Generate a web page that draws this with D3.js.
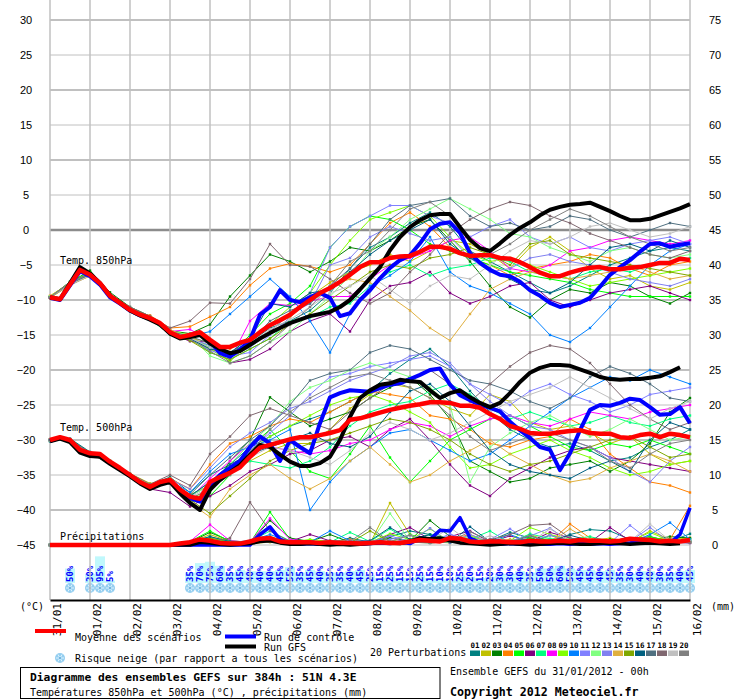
<!DOCTYPE html>
<html><head><meta charset="utf-8">
<script src="https://cdn.jsdelivr.net/npm/d3@7"></script>
<style>body{margin:0;background:#fff}svg{display:block}</style>
</head><body>
<svg id="c" width="740" height="700"></svg>
<script>
// ---------- DATA ----------
const dates = ["31/01","01/02","02/02","03/02","04/02","05/02","06/02","07/02","08/02","09/02","10/02","11/02","12/02","13/02","14/02","15/02","16/02"];
const hours6 = d3.range(0, 385, 6);   // 65 steps
const hours12 = d3.range(0, 385, 12); // 33 steps
const leftTicks = [-45,-40,-35,-30,-25,-20,-15,-10,-5,0,5,10,15,20,25,30];
const rightTicks = [0,5,10,15,20,25,30,35,40,45,50,55,60,65,70,75];

const t850Mean = [-9.6,-9.9,-7.8,-5.7,-6.4,-7.6,-9.4,-10.4,-11.4,-12.1,
 -12.6,-13.3,-14.6,-15.3,-15.0,-14.6,-15.7,-16.7,-16.7,-16.1,
 -15.7,-14.6,-13.6,-12.9,-12.1,-11.0,-10.0,-9.0,-8.3,-7.4,
 -6.4,-5.3,-4.6,-4.6,-4.0,-3.8,-3.7,-3.1,-2.4,-2.4,
 -2.7,-3.3,-3.7,-3.6,-3.6,-4.0,-4.1,-4.6,-5.3,-6.1,
 -6.6,-6.6,-6.1,-5.7,-5.4,-5.3,-5.6,-5.6,-5.4,-5.3,
 -5.0,-4.7,-4.7,-4.1,-4.3];
const t850Ctrl = [-9.7,-10.0,-7.9,-5.9,-6.6,-7.8,-9.6,-10.5,-11.5,-12.2,
 -12.7,-13.4,-14.7,-15.4,-15.2,-14.8,-15.9,-17.6,-18.1,-17.1,
 -15.7,-12.1,-11.0,-8.6,-10.0,-10.3,-9.6,-9.0,-9.7,-12.3,
 -11.9,-10.0,-8.6,-6.9,-5.4,-4.3,-3.6,-1.9,0.1,0.9,
 1.1,-0.4,-3.3,-4.7,-5.7,-6.4,-6.6,-7.4,-8.6,-9.4,
 -10.4,-11.0,-10.7,-10.4,-9.7,-8.1,-6.4,-5.3,-4.3,-3.1,
 -2.0,-1.9,-2.4,-2.1,-1.9];
const t850Gfs = [-9.6,-9.9,-7.6,-5.3,-6.2,-7.6,-9.4,-10.4,-11.5,-12.2,
 -12.8,-13.5,-14.8,-15.5,-15.3,-15.0,-16.2,-17.0,-17.6,-17.3,
 -16.4,-15.5,-14.7,-14.0,-13.3,-12.8,-12.3,-12.0,-11.7,-11.0,
 -10.0,-8.5,-6.9,-5.3,-2.9,-1.0,0.4,1.4,2.1,2.3,
 2.3,0.4,-1.4,-2.6,-3.0,-1.9,-0.7,0.3,1.1,2.1,
 2.9,3.3,3.6,3.7,3.9,3.3,2.7,2.0,1.4,1.4,
 1.6,2.1,2.6,3.1,3.7];

const t500Mean = [-30.0,-29.6,-30.0,-31.4,-31.9,-32.0,-33.1,-34.0,-35.0,-36.0,
 -36.7,-36.0,-35.7,-37.1,-38.1,-38.4,-36.0,-35.3,-34.7,-33.9,
 -32.4,-31.1,-30.7,-30.3,-29.9,-29.6,-29.6,-29.3,-29.0,-28.6,
 -27.1,-26.9,-26.5,-26.1,-25.7,-25.4,-25.1,-24.9,-24.6,-24.6,
 -24.7,-25.1,-25.1,-25.4,-26.3,-27.0,-28.0,-28.4,-29.0,-29.1,
 -29.1,-28.9,-28.7,-28.6,-29.0,-29.1,-29.1,-29.6,-29.7,-29.3,
 -29.1,-29.6,-29.1,-29.3,-29.6];
const t500Ctrl = [-30.1,-29.7,-30.1,-31.5,-32.0,-32.2,-33.2,-34.1,-35.1,-36.1,
 -36.8,-36.2,-35.9,-37.3,-38.3,-38.8,-36.5,-35.0,-34.0,-33.0,
 -31.0,-29.5,-30.5,-33.0,-30.0,-31.0,-31.9,-27.6,-23.9,-23.3,
 -22.9,-23.0,-23.1,-22.6,-22.1,-21.9,-21.3,-20.7,-20.0,-19.8,
 -22.1,-23.6,-24.3,-25.0,-25.4,-25.9,-27.4,-28.6,-29.7,-31.0,
 -31.4,-34.3,-31.9,-28.6,-25.7,-25.0,-25.1,-24.7,-24.1,-24.3,
 -25.3,-26.4,-26.3,-25.3,-27.6];
const t500Gfs = [-30.2,-29.8,-30.3,-31.8,-32.3,-32.4,-33.4,-34.3,-35.2,-36.2,
 -37.0,-36.4,-36.0,-37.6,-39.0,-40.0,-37.1,-35.7,-34.6,-33.6,
 -32.1,-30.7,-31.0,-32.1,-33.1,-33.7,-33.7,-33.3,-32.4,-30.0,
 -26.7,-24.0,-22.9,-22.1,-21.9,-21.4,-21.6,-21.7,-22.9,-24.0,
 -23.3,-22.9,-23.9,-24.7,-25.3,-24.7,-23.3,-21.7,-20.4,-19.7,
 -19.3,-19.3,-19.4,-19.9,-20.4,-21.0,-21.3,-21.4,-21.3,-21.3,
 -21.1,-20.9,-20.3,-19.6,null];

const precipMean = [0,0,0,0,0,0,0,0,0,0,
 0,0,0,0.2,0.4,0.8,0.6,0.3,0.2,0.2,
 0.5,0.9,1.0,0.5,0.4,0.4,0.4,0.3,0.4,0.3,
 0.3,0.2,0.3,0.4,0.3,0.3,0.5,0.7,0.6,0.5,
 1.0,0.9,0.5,0.4,0.5,0.5,0.4,0.4,0.6,0.5,
 0.5,0.6,0.5,0.7,0.6,0.6,0.5,0.6,0.9,0.8,
 0.7,0.5,0.6,0.5,0.7];
const precipCtrl = [0,0,0,0,0,0,0,0,0,0,
 0,0,0,0,0,0,0,0,0,0,
 0,1.5,2.6,0.8,0.2,0.1,0.2,0.1,0.1,0.2,
 0.1,0.1,0.2,0.3,0.2,0.4,0.2,1.0,0.8,2.1,
 2.0,3.9,1.0,0.3,0.2,0.1,0.2,0.1,0.2,0.1,
 0.1,0.2,0.1,0.2,0.1,0.2,0.1,0.2,0.3,0.5,
 0.8,0.4,0.3,1.5,5.3];
const precipGfs = [0,0,0,0,0,0,0,0,0,0,
 0,0,0,0,0,0.4,0.3,0.1,0,0.1,
 0.2,0.5,0.6,0.3,0.1,0.1,0.2,0.1,0,0.1,
 0,0.1,0.2,0.4,0.3,0.2,0.5,1.0,0.9,1.0,
 0.6,0.3,0.2,0.1,0,0.1,0.2,0.1,0,0.1,
 0.2,0.3,0.2,0.1,0.1,0.2,0.3,0.2,0.1,0.2,
 0.3,0.2,0.1,0.2,null];

const pertColors = ["#008080","#c0c000","#008000","#ff8000","#00ff00","#800080","#00ff80","#ff00ff","#80ff00","#0080ff",
 "#8080ff","#80ff80","#8080f0","#e0b040","#80a800","#006080","#507080","#806870","#c0c0c0","#808080"];

const t850Pert = [
 [-9.5,-7.7,-6.3,-9.2,-11.2,-12.4,-14.8, -15.5,-16.8,-17.5,-16.0,-14.0,-13.0,-11.5,-9.0,-5.5,-2.5, -1.0,1.0,2.5,0.5,-3.0,-4.5,-6.0,-7.5,-9.0,-8.0, -6.5,-5.0,-4.0,-3.0,-2.5,-3.0],
 [-9.7,-7.9,-6.5,-9.5,-11.5,-12.7,-14.3, -15.8,-17.0,-18.0,-16.5,-14.5,-12.0,-9.5,-7.5,-6.0,-5.0, -3.5,-4.5,-3.0,-1.5,-2.0,-3.5,-5.5,-2.5,-1.0,-3.0, -5.5,-7.0,-6.5,-8.0,-8.5,-7.5],
 [-9.6,-7.5,-5.8,-8.9,-11.0,-12.3,-14.4, -14.8,-13.5,-9.5,-6.5,-3.5,-4.5,-6.0,-4.5,-2.5,-3.0, -1.5,0.5,1.5,-1.5,-4.5,-8.0,-11.0,-12.5,-10.0,-8.5, -9.0,-7.5,-8.0,-9.5,-10.5,-9.0],
 [-9.4,-7.6,-6.4,-9.5,-11.6,-12.2,-14.0, -13.8,-12.4,-11.0,-7.9,-5.5,-4.8,-5.2,-6.0,-5.0,-2.0, 1.0,2.5,0.5,-2.5,-4.0,-5.0,-6.5,-5.5,-5.0,-4.5, -3.5,-4.0,-5.5,-6.5,-5.0,-4.5],
 [-9.6,-7.4,-6.0,-9.4,-11.4,-12.8,-14.9, -15.6,-16.5,-17.8,-15.0,-12.0,-10.5,-8.0,-2.5,0.5,2.0, 1.5,0.0,-2.0,-3.0,-4.0,-5.0,-6.0,-6.5,-7.0,-7.5, -8.5,-9.0,-9.5,-9.5,-9.5,-9.5],
 [-9.6,-7.8,-6.4,-9.3,-11.4,-12.6,-14.7, -15.9,-16.0,-19.0,-18.5,-17.0,-14.5,-13.0,-12.0,-14.5,-10.0, -8.0,-7.5,-6.0,-9.0,-10.5,-9.5,-8.0,-7.5,-10.0,-11.0, -10.0,-9.0,-8.5,-8.0,-9.0,-10.0],
 [-9.6,-7.7,-6.4,-9.4,-11.4,-12.6,-14.6, -15.4,-17.5,-18.5,-17.0,-15.5,-13.0,-12.5,-11.0,-10.5,-8.0, -6.0,-5.0,-6.5,-5.5,-5.0,-4.0,-4.5,-6.0,-6.5,-7.0, -6.0,-5.5,-6.0,-5.0,-4.5,-4.0],
 [-9.6,-7.8,-6.3,-9.5,-11.5,-12.6,-14.5, -14.2,-15.8,-18.5,-13.0,-10.5,-10.8,-10.2,-9.5,-9.5,-7.0, -5.0,-4.0,-3.0,-1.5,-1.0,-3.0,-5.5,-6.0,-5.0,-3.0, -2.5,-1.5,-1.0,-1.5,-2.0,-1.5],
 [-9.5,-7.5,-6.1,-9.2,-11.2,-12.5,-14.4, -15.0,-17.0,-18.8,-16.0,-13.5,-11.0,-9.0,-5.0,-1.5,1.5, 2.5,3.5,2.0,-1.0,-3.5,-4.5,-4.0,-5.0,-6.0,-7.0, -8.0,-7.5,-7.0,-6.5,-6.0,-5.5],
 [-9.6,-7.7,-6.3,-9.4,-11.4,-12.7,-14.7, -15.2,-14.5,-12.0,-9.5,-7.0,-9.5,-13.0,-17.5,-12.0,-8.0, -6.5,-4.5,-1.0,-6.0,-8.0,-9.0,-10.5,-12.0,-15.0,-16.0, -14.0,-11.0,-8.0,-5.0,-3.0,-2.0],
 [-9.6,-7.9,-6.5,-9.6,-11.6,-12.8,-14.8, -15.5,-16.5,-18.0,-17.5,-15.0,-12.5,-9.0,-2.5,0.5,2.0, 3.5,3.5,2.0,1.0,-1.0,0.5,1.5,-1.0,-2.0,-1.0, -2.5,-3.0,-2.0,-1.5,-1.0,-2.0],
 [-9.5,-7.6,-6.2,-9.3,-11.3,-12.5,-14.5, -15.0,-18.0,-19.0,-18.0,-16.0,-14.5,-12.0,-9.5,-6.5,-3.0, -1.0,1.5,3.0,4.5,3.0,1.5,-0.5,-1.0,-2.5,-3.5, -4.5,-3.0,-2.5,-3.5,-4.0,-3.5],
 [-9.6,-7.7,-6.4,-9.5,-11.5,-12.7,-14.6, -15.3,-17.2,-18.0,-16.8,-14.5,-12.0,-10.5,-5.0,-4.0,-1.0, 0.5,-0.5,-1.5,-1.0,-4.0,-6.0,-5.5,-4.0,-3.5,-4.5, -5.0,-6.0,-7.0,-7.5,-8.0,-7.0],
 [-9.7,-7.8,-6.6,-9.6,-11.3,-12.4,-14.2, -15.5,-16.0,-17.0,-15.5,-13.5,-12.5,-10.0,-8.0,-7.0,-7.5, -9.5,-11.5,-14.0,-15.8,-12.0,-8.5,-7.0,-6.0,-6.5,-7.0, -6.5,-6.0,-5.0,-6.0,-7.0,-6.5],
 [-9.6,-7.8,-6.3,-9.4,-11.4,-12.6,-14.6, -15.8,-17.5,-18.5,-17.0,-15.5,-13.5,-12.0,-10.0,-8.0,-6.0, -5.0,-5.5,-4.0,-3.5,-2.5,-3.5,-5.0,-2.0,-1.5,-3.5, -4.0,-4.5,-5.0,-5.5,-6.0,-6.5],
 [-9.6,-7.7,-6.4,-9.4,-11.4,-12.6,-14.7, -15.5,-17.0,-17.5,-15.5,-10.5,-11.0,-9.0,-8.5,-6.0,-3.5, -1.5,0.0,1.5,-2.0,-4.0,-5.5,-7.0,-8.5,-9.0,-7.5, -5.0,-2.5,-2.0,-3.0,-1.5,-2.5],
 [-9.6,-7.7,-6.2,-9.2,-11.2,-12.5,-14.5, -15.2,-16.2,-17.5,-16.0,-13.0,-11.5,-10.5,-8.0,-5.5,-2.0, 1.5,3.5,4.0,4.5,2.0,0.5,1.0,0.0,0.5,2.0, 1.5,0.0,-1.0,0.0,1.0,0.5],
 [-9.6,-7.4,-6.2,-9.2,-11.0,-12.3,-14.0, -13.0,-10.4,-10.5,-7.0,-2.0,-5.0,-5.2,-7.0,-9.0,-10.5, -9.0,-6.0,-3.5,-0.5,1.5,3.0,4.0,3.5,2.0,1.0, -0.5,-1.5,-2.5,-3.5,-4.0,-3.0],
 [-9.6,-7.8,-6.5,-9.5,-11.5,-12.6,-14.6, -15.4,-16.8,-17.6,-16.3,-14.2,-12.8,-11.0,-9.0,-8.0,-6.5, -8.5,-10.5,-8.0,-6.5,-7.0,-5.0,-3.0,-1.5,-2.0,-1.0, 0.5,1.0,0.0,-1.0,-0.5,0.5],
 [-9.6,-7.6,-6.3,-9.4,-11.3,-12.5,-14.6, -15.6,-17.3,-19.0,-18.0,-16.0,-13.5,-11.0,-8.0,-4.5,-3.0, 0.0,3.0,4.0,2.0,-1.5,-3.5,-2.0,0.0,1.5,3.0, 2.0,0.5,-1.0,-2.0,-3.0,-2.5]
];

const t500Pert = [
 [-30.2,-29.8,-31.7,-33.0,-35.2,-36.4,-35.3, -37.5,-35.0,-33.5,-31.0,-29.5,-28.0,-27.0,-26.0,-24.5,-23.0, -20.5,-18.5,-17.0,-19.5,-23.0,-26.0,-28.5,-30.0,-31.0,-30.5, -31.5,-33.0,-32.5,-31.0,-30.0,-28.5],
 [-30.0,-30.1,-32.0,-33.3,-34.8,-36.2,-36.0, -37.8,-36.5,-34.0,-33.0,-31.5,-30.5,-30.5,-28.5,-25.5,-23.5, -22.0,-22.5,-24.0,-25.5,-26.5,-23.5,-24.5,-27.5,-28.5,-28.0, -29.0,-30.5,-29.5,-32.0,-33.5,-33.0],
 [-30.0,-29.9,-31.9,-33.2,-35.0,-36.8,-35.8, -39.0,-37.5,-33.0,-30.0,-23.9,-26.0,-28.0,-27.0,-26.0,-24.0, -22.5,-21.0,-23.5,-27.0,-33.0,-34.5,-36.0,-35.5,-34.0,-33.5, -33.0,-34.5,-33.0,-30.5,-26.0,-24.0],
 [-29.9,-30.0,-31.8,-33.1,-34.9,-36.6,-35.5, -37.0,-33.5,-30.5,-29.5,-28.0,-27.0,-27.5,-26.0,-24.5,-23.0, -23.5,-24.0,-26.5,-27.0,-28.5,-30.5,-31.0,-30.0,-29.5,-27.0, -28.5,-32.0,-34.0,-36.0,-36.5,-37.5],
 [-30.0,-30.0,-31.9,-33.0,-35.1,-36.7,-35.9, -38.5,-38.0,-35.0,-31.0,-28.5,-31.5,-34.5,-35.5,-32.0,-28.0, -32.5,-36.0,-33.0,-30.0,-28.5,-27.0,-26.5,-28.0,-29.5,-31.0, -31.5,-30.5,-31.0,-30.0,-31.0,-32.0],
 [-30.0,-30.0,-32.0,-33.2,-35.0,-37.0,-37.5, -39.5,-38.0,-36.5,-34.5,-33.5,-32.0,-31.5,-30.0,-29.5,-31.0, -28.5,-27.0,-30.0,-33.5,-36.5,-38.0,-35.5,-34.0,-32.5,-31.5, -31.0,-32.5,-33.0,-33.5,-34.0,-34.5],
 [-30.0,-30.1,-31.9,-33.1,-35.0,-36.7,-35.9, -38.0,-36.0,-34.5,-33.0,-33.5,-34.0,-33.0,-31.0,-28.0,-26.0, -25.0,-24.5,-23.0,-22.0,-23.5,-25.5,-27.0,-26.0,-27.0,-28.0, -27.5,-26.5,-27.5,-28.0,-27.0,-26.5],
 [-30.0,-30.0,-31.9,-33.1,-35.0,-36.7,-35.8, -38.3,-35.5,-33.0,-30.5,-31.0,-31.5,-32.0,-31.5,-30.5,-30.0, -28.5,-27.5,-28.0,-29.5,-28.0,-27.0,-26.5,-27.5,-28.0,-27.0, -26.0,-26.5,-27.0,-26.0,-25.5,-25.0],
 [-30.0,-29.9,-31.9,-33.0,-34.9,-36.5,-35.6, -38.5,-37.0,-34.0,-31.5,-29.5,-28.0,-26.5,-25.0,-24.0,-23.5, -24.5,-26.0,-27.5,-31.0,-34.0,-33.5,-32.0,-31.0,-30.0,-31.5, -32.5,-34.0,-35.0,-34.5,-33.5,-33.0],
 [-30.0,-30.0,-32.0,-33.1,-35.1,-36.8,-35.8, -37.5,-34.5,-32.0,-31.0,-30.0,-28.5,-40.0,-36.0,-33.0,-31.0, -29.0,-28.5,-30.0,-31.5,-33.0,-32.0,-30.0,-28.0,-26.0,-24.0, -22.5,-21.0,-21.5,-20.0,-21.0,-22.0],
 [-30.0,-30.0,-31.9,-33.1,-35.0,-36.7,-36.0, -38.0,-36.5,-34.0,-31.5,-29.0,-26.5,-23.5,-21.0,-20.5,-19.5, -19.0,-18.5,-18.0,-19.5,-22.0,-23.5,-25.0,-23.0,-22.0,-23.5, -24.5,-26.0,-25.0,-23.5,-23.0,-22.5],
 [-30.0,-30.0,-31.8,-33.0,-34.9,-36.6,-35.7, -38.0,-36.5,-33.5,-30.5,-28.0,-24.5,-22.5,-21.5,-20.0,-19.0, -20.0,-21.0,-22.5,-25.0,-36.0,-31.0,-29.0,-27.5,-26.5,-28.0, -29.5,-28.5,-27.0,-28.5,-30.0,-29.5],
 [-30.0,-30.0,-31.9,-33.1,-35.0,-36.7,-35.6, -37.0,-34.0,-31.0,-29.0,-27.5,-25.5,-24.5,-23.0,-21.5,-20.5, -19.5,-18.0,-17.5,-19.0,-22.0,-24.5,-26.5,-28.0,-28.5,-30.0, -31.0,-32.5,-34.5,-36.0,-33.0,-31.0],
 [-30.0,-30.0,-32.0,-33.2,-35.1,-36.9,-36.0, -39.0,-41.0,-37.0,-35.0,-33.5,-35.5,-37.0,-35.5,-33.0,-31.0, -33.5,-36.0,-35.0,-33.0,-31.5,-30.0,-32.0,-33.5,-35.0,-36.0, -35.5,-34.0,-33.0,-32.0,-33.0,-34.5],
 [-30.0,-30.1,-31.9,-33.1,-35.0,-36.7,-35.8, -38.5,-40.5,-38.0,-35.5,-33.0,-31.5,-30.5,-30.0,-29.0,-28.0, -27.0,-27.5,-28.5,-30.0,-32.0,-33.5,-34.5,-33.5,-33.0,-32.0, -31.0,-30.0,-29.5,-31.0,-32.5,-32.0],
 [-30.0,-29.9,-31.8,-33.0,-35.0,-36.6,-35.7, -38.0,-36.0,-33.5,-32.0,-31.0,-30.0,-29.0,-30.5,-31.0,-29.5, -26.0,-23.0,-22.0,-24.5,-28.0,-31.5,-33.5,-34.5,-35.0,-35.5, -34.0,-33.0,-34.5,-30.0,-27.5,-28.5],
 [-30.0,-30.0,-31.9,-33.1,-35.0,-36.7,-35.8, -37.8,-35.0,-32.5,-30.0,-28.0,-25.0,-21.5,-20.5,-20.0,-17.5, -16.5,-17.0,-18.5,-20.0,-21.5,-22.0,-23.0,-24.5,-25.5,-24.0, -21.0,-19.5,-20.5,-22.0,-24.0,-24.5],
 [-30.0,-30.0,-31.8,-33.0,-34.8,-36.3,-35.0, -36.5,-32.0,-29.5,-26.5,-25.5,-26.5,-27.5,-28.5,-26.0,-24.0, -22.0,-21.5,-20.0,-22.0,-24.5,-22.0,-19.5,-17.5,-16.5,-17.0, -19.0,-22.0,-25.0,-27.0,-28.5,-27.5],
 [-30.0,-30.0,-32.0,-33.2,-35.1,-36.8,-35.9, -38.2,-36.8,-34.5,-32.5,-31.0,-31.5,-32.5,-33.5,-31.5,-29.0, -27.5,-28.5,-30.0,-29.0,-27.5,-26.0,-24.5,-23.5,-22.5,-21.0, -22.5,-24.0,-25.5,-27.0,-25.5,-24.5],
 [-30.0,-30.0,-31.9,-33.1,-35.0,-36.7,-35.8, -38.4,-37.0,-35.0,-32.0,-28.5,-26.0,-24.0,-22.5,-21.0,-20.5, -21.5,-22.5,-24.0,-26.5,-29.5,-31.5,-30.5,-29.5,-29.0,-30.0, -31.0,-33.0,-34.0,-32.0,-30.5,-30.0]
];

const precipPert = [
 [0,0,0,0,0,0,0, 0.2,0.5,0.1,0.3,0.6,0.2,0.5,0.3,1.0,0.4, 1.2,2.0,1.5,0.8,1.0,0.6,1.8,1.0,0.6,1.5, 2.2,2.0,0.8,1.2,0.5,1.6],
 [0,0,0,0,0,0,0, 0.3,1.5,0.5,0.2,0.4,0.2,0.3,0.6,0.3,0.2, 6.0,1.5,0.5,0.3,0.8,0.4,0.3,1.5,0.5,0.3, 0.6,1.0,0.4,2.0,0.8,1.0],
 [0,0,0,0,0,0,0, 0.4,1.8,0.6,0.4,3.5,1.0,0.5,1.5,0.4,0.3, 1.0,0.6,3.5,1.2,0.4,0.8,0.5,0.3,1.4,0.6, 0.4,0.8,0.5,0.7,1.2,1.0],
 [0,0,0,0,0,0,0, 0.2,0.4,0.1,0.3,0.5,0.3,0.2,0.4,0.8,0.3, 0.5,0.6,0.4,0.8,1.5,0.4,0.8,0.5,0.4,3.0, 1.0,0.5,0.3,1.0,0.8,5.6],
 [0,0,0,0,0,0,0, 0.5,2.0,0.5,0.3,4.7,0.8,0.2,0.5,0.3,0.6, 0.4,1.5,0.6,0.5,0.3,0.6,0.4,1.0,0.8,0.5, 0.4,0.3,0.6,1.2,0.5,0.8],
 [0,0,0,0,0,0,0, 0.3,0.6,0.3,0.2,0.8,0.5,1.5,0.6,0.4,0.3, 1.5,2.5,0.8,1.2,2.0,0.4,1.3,0.5,1.8,1.0, 0.4,2.5,0.6,0.5,0.4,0.3],
 [0,0,0,0,0,0,0, 0.4,1.2,0.3,0.5,2.0,0.6,0.3,0.4,1.8,0.5, 2.3,0.6,1.5,1.0,0.8,2.0,0.3,1.6,0.9,0.8, 1.2,0.5,0.4,0.6,0.8,0.5],
 [0,0,0,0,0,0,0, 0.5,2.9,0.6,0.4,3.8,0.8,0.5,0.3,0.4,0.6, 0.3,0.5,0.4,1.0,0.6,0.3,0.5,0.4,0.6,0.5, 0.3,0.4,0.5,0.4,0.6,0.3],
 [0,0,0,0,0,0,0, 0.3,1.0,0.4,0.3,1.2,0.4,0.8,0.5,0.3,0.4, 1.6,0.8,2.3,0.5,1.3,0.4,0.6,2.5,1.5,0.8, 0.4,0.6,0.5,1.8,0.6,0.4],
 [0,0,0,0,0,0,0, 0.2,0.6,0.4,0.6,1.5,0.5,0.4,2.0,0.6,0.3, 0.5,0.4,0.6,0.4,0.3,0.5,1.5,0.4,0.3,0.5, 0.4,0.6,0.3,1.5,3.2,0.8],
 [0,0,0,0,0,0,0, 0.3,0.8,0.3,0.4,0.6,0.3,0.5,0.4,0.6,0.5, 0.8,1.4,0.3,1.6,0.4,0.8,2.3,0.5,1.4,0.6, 0.5,0.3,2.8,0.6,0.4,0.5],
 [0,0,0,0,0,0,0, 0.4,1.0,0.5,0.3,0.8,0.4,0.3,0.5,0.4,0.3, 4.5,0.6,0.5,0.4,0.3,0.6,0.5,0.4,0.3,0.5, 0.8,0.4,0.3,0.5,0.4,0.6],
 [0,0,0,0,0,0,0, 0.2,0.5,0.2,0.3,0.5,0.3,0.4,0.3,0.5,0.4, 1.3,0.5,2.4,0.3,1.5,0.4,0.6,1.3,2.4,0.5, 0.3,0.4,0.5,2.5,0.4,0.3],
 [0,0,0,0,0,0,0, 0.3,0.8,0.3,0.5,1.0,0.6,0.4,0.5,0.3,0.5, 0.4,0.3,0.5,0.8,0.4,0.6,0.3,0.5,0.4,2.3, 0.6,0.5,0.4,0.3,0.5,0.4],
 [0,0,0,0,0,0,0, 0.3,1.0,0.4,0.3,0.6,0.4,0.5,0.4,0.3,2.0, 0.5,0.4,0.3,0.5,0.4,0.6,0.3,0.4,0.5,0.4, 0.3,0.5,0.4,0.6,0.5,0.4],
 [0,0,0,0,0,0,0, 0.4,1.2,0.5,0.4,0.6,0.5,0.4,0.3,0.5,0.6, 2.5,0.8,1.5,0.4,2.6,0.5,0.4,1.3,0.5,1.4, 0.6,0.5,0.3,0.4,0.6,0.5],
 [0,0,0,0,0,0,0, 0.3,0.6,0.4,0.3,0.5,0.4,0.3,0.5,0.4,0.3, 0.5,0.4,0.3,0.5,0.4,0.3,0.5,0.6,0.4,0.5, 0.3,0.4,0.6,0.5,0.4,0.6],
 [0,0,0,0,0,0,0, 0.2,0.4,1.0,6.1,2.0,0.5,0.4,0.6,0.5,0.4, 0.3,0.5,0.4,0.6,0.5,0.8,1.5,2.8,3.0,1.0, 0.5,0.4,0.3,0.5,0.4,0.3],
 [0,0,0,0,0,0,0, 0.2,0.5,0.3,0.4,0.5,0.4,0.3,0.5,0.4,0.3, 0.5,1.4,0.6,2.5,0.4,1.3,0.5,0.4,2.3,0.5, 0.4,0.3,0.5,3.0,0.6,0.5],
 [0,0,0,0,0,0,0, 0.3,0.6,0.4,0.5,0.6,0.5,0.4,0.6,0.5,2.5, 0.5,1.4,0.3,0.5,1.9,0.6,0.5,1.3,0.4,0.6, 0.5,0.4,0.3,0.5,0.6,0.4]
];

const snowHours = [12,24,30,36].concat(d3.range(84, 385, 6));
const snowPct = [50,30,95,5,
 35,70,75,60,35,45,40,40,40,45,55,35,45,40,35,35,40,45,25,
 15,25,15,15,25,15,10,10,25,20,15,20,30,30,40,35,50,50,60,50,45,45,40,45,35,30,40,40,30,35,40,45];

// ---------- DRAW ----------
const svg = d3.select("#c");
const MONO = "'DejaVu Sans Mono', monospace";
const x = d3.scaleLinear().domain([0, 384]).range([50, 690]);
const yL = d3.scaleLinear().domain([-45, 30]).range([545, 20]);
const yR = d3.scaleLinear().domain([0, 75]).range([545, 20]);

// snow risk row
const snow = svg.append("g");
snow.selectAll("rect").data(snowHours).join("rect")
  .attr("x", d => x(d) - 5).attr("width", 10)
  .attr("y", (d, i) => 583 - (1 + snowPct[i] * 0.27))
  .attr("height", (d, i) => 1 + snowPct[i] * 0.27)
  .attr("fill", "#c0f8fc");
function flake(g, cx, cy, r) {
  const f = g.append("g").attr("transform", `translate(${cx},${cy})`);
  f.append("circle").attr("r", r).attr("fill", "#94cef0");
  [0, 60, 120].forEach(a => {
    const c = Math.cos(a * Math.PI / 180) * r * 0.8, s = Math.sin(a * Math.PI / 180) * r * 0.8;
    f.append("line").attr("x1", -c).attr("y1", -s).attr("x2", c).attr("y2", s)
      .attr("stroke", "#e8f8ff").attr("stroke-width", 0.9);
  });
  f.append("circle").attr("r", 1.1).attr("fill", "#5aa6d6");
}
snowHours.forEach(h => flake(snow, x(h), 588, 5));
snow.selectAll("text").data(snowHours).join("text")
  .attr("transform", d => `translate(${x(d) + 3},582) rotate(-90)`)
  .attr("font-family", MONO).attr("font-size", 9).attr("font-weight", "bold").attr("fill", "#0000ff")
  .text((d, i) => snowPct[i] + "%");

// grid
const grid = svg.append("g");
leftTicks.forEach(v => {
  grid.append("line").attr("x1", 50).attr("x2", 690).attr("y1", yL(v)).attr("y2", yL(v))
    .attr("stroke", v === 0 ? "#8c8c8c" : "#c0c0c0")
    .attr("stroke-width", v === 0 ? 2.5 : (v % 10 === 0 ? 2 : 1));
});
dates.forEach((d, i) => {
  grid.append("line").attr("x1", x(i * 24)).attr("x2", x(i * 24)).attr("y1", 0).attr("y2", 600)
    .attr("stroke", "#c0c0c0").attr("stroke-width", 1.5);
});

// axes
const axL = svg.append("g").attr("transform", "translate(26,0)")
  .call(d3.axisLeft(yL).tickValues(leftTicks).tickSize(0).tickPadding(0));
axL.select(".domain").remove();
axL.selectAll("text").attr("text-anchor", "middle").attr("x", 0)
  .attr("font-family", "'Liberation Sans', Arial, sans-serif").attr("font-size", 11).attr("fill", "#000");
const axR = svg.append("g").attr("transform", "translate(715,0)")
  .call(d3.axisRight(yR).tickValues(rightTicks).tickSize(0).tickPadding(0));
axR.select(".domain").remove();
axR.selectAll("text").attr("text-anchor", "middle").attr("x", 0)
  .attr("font-family", "'Liberation Sans', Arial, sans-serif").attr("font-size", 11).attr("fill", "#000");
const axB = svg.append("g").attr("transform", "translate(0,600)")
  .call(d3.axisBottom(x).tickValues(dates.map((d, i) => i * 24)).tickSize(0).tickFormat((d, i) => dates[i]));
axB.select(".domain").attr("stroke", "#000").attr("stroke-width", 2);
axB.selectAll("text").attr("transform", "rotate(-90)").attr("text-anchor", "end")
  .attr("x", -3).attr("y", 10).attr("dy", 0)
  .attr("font-family", MONO).attr("font-size", 11).attr("fill", "#000");

// section labels
const lab = (t, xx, yy) => svg.append("text").attr("x", xx).attr("y", yy)
  .attr("font-family", MONO).attr("font-size", 10).attr("fill", "#000").text(t);
lab("Temp. 850hPa", 60, 264);
lab("Temp. 500hPa", 60, 431);
lab("Précipitations", 60, 540);
lab("(°C)", 20, 610);
lab("(mm)", 711, 610);

// series
function drawSeries(vals, hrs, yScale, color, width, markers) {
  const pts = vals.map((v, i) => [hrs[i], v]);
  const ln = d3.line().defined(d => d[1] != null).x(d => x(d[0])).y(d => yScale(d[1]));
  svg.append("path").attr("d", ln(pts)).attr("fill", "none")
    .attr("stroke", color).attr("stroke-width", width).attr("stroke-linejoin", "round");
  if (markers) {
    svg.append("g").selectAll("rect").data(pts.filter(d => d[1] != null)).join("rect")
      .attr("x", d => x(d[0]) - 1.2).attr("y", d => yScale(d[1]) - 1.2)
      .attr("width", 2.4).attr("height", 2.4).attr("fill", color);
  }
}
t850Pert.forEach((s, i) => drawSeries(s, hours12, yL, pertColors[i], 1, true));
t500Pert.forEach((s, i) => drawSeries(s, hours12, yL, pertColors[i], 1, true));
precipPert.forEach((s, i) => drawSeries(s, hours12, yR, pertColors[i], 1, true));

drawSeries(t850Ctrl, hours6, yL, "#0000ff", 4, false);
drawSeries(t500Ctrl, hours6, yL, "#0000ff", 4, false);
drawSeries(precipCtrl, hours6, yR, "#0000ff", 3.5, false);
drawSeries(t850Gfs, hours6, yL, "#000000", 4, false);
drawSeries(t500Gfs, hours6, yL, "#000000", 4, false);
drawSeries(precipGfs, hours6, yR, "#000000", 3.5, false);
drawSeries(t850Mean, hours6, yL, "#ff0000", 4.5, false);
drawSeries(t500Mean, hours6, yL, "#ff0000", 4.5, false);
drawSeries(precipMean, hours6, yR, "#ff0000", 4.5, false);

// legend
const leg = svg.append("g");
leg.append("line").attr("x1", 35).attr("x2", 66).attr("y1", 631).attr("y2", 631).attr("stroke", "#ff0000").attr("stroke-width", 4);
lab("Moyenne des scénarios", 75, 640.5);
leg.append("line").attr("x1", 225).attr("x2", 256).attr("y1", 636.5).attr("y2", 636.5).attr("stroke", "#0000ff").attr("stroke-width", 4);
lab("Run de contrôle", 264, 640.5);
leg.append("line").attr("x1", 225).attr("x2", 256).attr("y1", 646.5).attr("y2", 646.5).attr("stroke", "#000").attr("stroke-width", 4);
lab("Run GFS", 264, 650.5);
flake(leg, 60, 658, 5);
lab("Risque neige (par rapport a tous les scénarios)", 75, 662);
lab("20 Perturbations", 370, 656);
pertColors.forEach((c, i) => {
  leg.append("rect").attr("x", 470 + 11 * i).attr("y", 650.5).attr("width", 10).attr("height", 5.5).attr("fill", c);
  leg.append("text").attr("x", 475 + 11 * i).attr("y", 647.5).attr("text-anchor", "middle")
    .attr("font-family", MONO).attr("font-size", 7.5).attr("font-weight", "bold")
    .text(String(i + 1).padStart(2, "0"));
});

// title box
svg.append("rect").attr("x", 20.5).attr("y", 667.5).attr("width", 419.5).attr("height", 31)
  .attr("fill", "#fff").attr("stroke", "#000").attr("stroke-width", 1);
svg.append("text").attr("x", 30).attr("y", 681).attr("font-family", MONO).attr("font-size", 11.3).attr("font-weight", "bold")
  .text("Diagramme des ensembles GEFS sur 384h : 51N 4.3E");
lab("Températures 850hPa et 500hPa (°C) , précipitations (mm)", 30, 695.5);
lab("Ensemble GEFS du 31/01/2012 - 00h", 450, 675);
svg.append("text").attr("x", 450).attr("y", 695.5).attr("font-family", MONO).attr("font-size", 11.6).attr("font-weight", "bold")
  .text("Copyright 2012 Meteociel.fr");
</script>
</body></html>
